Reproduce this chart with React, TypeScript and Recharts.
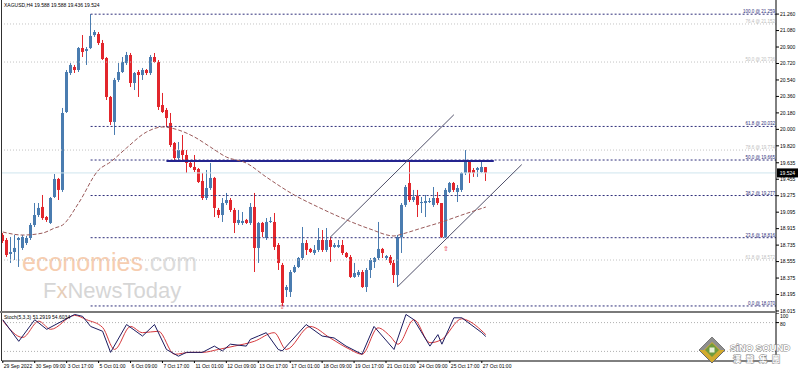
import React from 'react';
import { ComposedChart, Bar, Line, XAxis, YAxis, ReferenceLine, ReferenceDot } from 'recharts';

// ---------- data ----------
const opens = [
  18.846, 18.791, 18.638, 18.660, 18.791, 18.704, 18.758, 18.813, 18.955, 19.064,
  19.152, 19.042, 18.977, 19.261, 19.458, 19.338, 20.190, 20.616, 20.682, 20.649,
  20.889, 20.857, 20.889, 21.031, 21.042, 20.944, 20.780, 20.354, 20.081, 20.540,
  20.627, 20.725, 20.813, 20.507, 20.627, 20.594, 20.649, 20.616, 20.791, 20.736,
  20.266, 20.212, 20.070, 19.851, 19.687, 19.774, 19.720, 19.633, 19.589, 19.567,
  19.436, 19.250, 19.359, 19.469, 19.119, 19.064, 19.195, 19.228, 19.119, 18.977,
  18.977, 19.010, 18.977, 19.152, 18.704, 18.977, 18.813, 18.988, 18.988, 18.736,
  18.518, 18.244, 18.223, 18.441, 18.496, 18.594, 18.758, 18.693, 18.649, 18.682,
  18.791, 18.682, 18.791, 18.715, 18.715, 18.736, 18.649, 18.605, 18.387, 18.408,
  18.441, 18.277, 18.463, 18.551, 18.594, 18.693, 18.594, 18.605, 18.540, 18.408,
  18.824, 19.174, 19.414, 19.228, 19.272, 19.195, 19.195, 19.206, 19.174, 19.250,
  19.195, 18.824, 19.316, 19.414, 19.316, 19.338, 19.523, 19.644, 19.556, 19.556,
  19.534, 19.588,
];
const highs = [
  18.867, 18.813, 18.824, 18.846, 18.824, 18.846, 18.835, 18.977, 19.195, 19.195,
  19.283, 19.053, 19.261, 19.512, 19.469, 20.234, 20.649, 20.725, 20.704, 20.900,
  21.031, 20.900, 21.259, 21.086, 21.064, 20.977, 20.791, 20.365, 20.562, 20.725,
  20.791, 20.846, 20.835, 20.627, 20.649, 20.671, 20.660, 20.813, 20.835, 20.758,
  20.398, 20.234, 20.179, 19.862, 19.862, 19.939, 19.774, 19.644, 19.720, 19.578,
  19.523, 19.556, 19.633, 19.480, 19.141, 19.250, 19.305, 19.250, 19.141, 19.119,
  19.097, 19.021, 19.195, 19.305, 18.988, 18.988, 19.031, 19.042, 19.086, 18.758,
  18.540, 18.299, 18.463, 18.518, 18.605, 18.933, 18.791, 18.704, 18.736, 18.922,
  18.900, 18.922, 18.824, 18.758, 18.791, 18.791, 18.660, 18.627, 18.540, 18.463,
  18.463, 18.485, 18.594, 18.605, 18.988, 18.704, 18.627, 18.627, 18.572, 18.846,
  19.195, 19.392, 19.644, 19.338, 19.338, 19.261, 19.283, 19.250, 19.370, 19.316,
  19.195, 19.359, 19.425, 19.425, 19.392, 19.534, 19.774, 19.665, 19.578, 19.589,
  19.644, 19.588,
];
const lows = [
  18.758, 18.605, 18.540, 18.572, 18.496, 18.682, 18.736, 18.791, 18.933, 19.042,
  19.010, 18.988, 18.966, 19.250, 19.228, 19.316, 20.179, 20.594, 20.616, 20.627,
  20.791, 20.704, 20.878, 21.010, 20.922, 20.758, 20.321, 20.048, 19.939, 20.518,
  20.616, 20.704, 20.463, 20.430, 20.354, 20.540, 20.594, 20.594, 20.725, 20.212,
  20.179, 20.026, 19.807, 19.665, 19.665, 19.665, 19.523, 19.578, 19.534, 19.414,
  19.228, 19.228, 19.338, 19.042, 19.031, 18.988, 19.174, 19.097, 18.867, 18.955,
  18.955, 18.966, 18.955, 18.441, 18.540, 18.824, 18.791, 18.977, 18.682, 18.463,
  18.070, 18.168, 18.168, 18.430, 18.485, 18.572, 18.627, 18.649, 18.627, 18.660,
  18.660, 18.660, 18.551, 18.704, 18.704, 18.627, 18.594, 18.376, 18.376, 18.387,
  18.267, 18.223, 18.376, 18.485, 18.572, 18.594, 18.572, 18.518, 18.321, 18.277,
  18.649, 19.152, 19.206, 19.206, 19.042, 19.086, 19.042, 19.195, 19.152, 19.174,
  18.813, 18.813, 19.305, 19.316, 19.206, 19.316, 19.501, 19.414, 19.480, 19.480,
  19.523, 19.436,
];
const closes = [
  18.780, 18.627, 18.660, 18.704, 18.813, 18.824, 18.813, 18.955, 19.064, 19.141,
  19.031, 19.010, 19.250, 19.458, 19.338, 20.179, 20.627, 20.704, 20.649, 20.889,
  20.846, 20.878, 21.021, 21.064, 20.944, 20.769, 20.354, 20.081, 20.540, 20.627,
  20.736, 20.813, 20.507, 20.616, 20.594, 20.649, 20.616, 20.791, 20.736, 20.245,
  20.190, 20.124, 19.829, 19.687, 19.774, 19.720, 19.633, 19.589, 19.556, 19.425,
  19.250, 19.359, 19.469, 19.141, 19.064, 19.195, 19.228, 19.119, 18.977, 19.010,
  18.999, 18.977, 19.152, 18.704, 18.977, 18.878, 18.988, 18.999, 18.715, 18.540,
  18.103, 18.277, 18.441, 18.496, 18.594, 18.758, 18.682, 18.660, 18.682, 18.791,
  18.682, 18.791, 18.715, 18.736, 18.736, 18.649, 18.605, 18.387, 18.430, 18.441,
  18.277, 18.463, 18.572, 18.594, 18.693, 18.649, 18.616, 18.540, 18.408, 18.824,
  19.174, 19.370, 19.228, 19.261, 19.174, 19.206, 19.217, 19.217, 19.250, 19.195,
  18.824, 19.338, 19.414, 19.338, 19.359, 19.523, 19.644, 19.523, 19.523, 19.578,
  19.589, 19.524,
];

const maIdx = [0, 5, 10, 13, 15, 19, 24, 27, 31, 36, 40, 44, 48, 52, 56, 61, 66, 73, 79, 85, 92, 98, 100, 105, 110, 115, 121];
const maVal = [18.878, 18.845, 18.867, 18.922, 18.955, 19.195, 19.556, 19.644, 19.797, 19.971, 20.026, 19.993, 19.917, 19.807, 19.698, 19.632, 19.479, 19.283, 19.151, 19.031, 18.911, 18.835, 18.856, 18.922, 18.988, 19.064, 19.151];

const stochMainIdx = [0, 4, 8, 11, 18, 20, 22, 25, 27, 31, 35, 38, 41, 44, 46, 50, 53, 55, 57, 61, 62, 64, 66, 69, 70, 76, 80, 83, 86, 90, 93, 98, 101, 103, 107, 109, 110, 113, 115, 120, 121];
const stochMainVal = [86, 41, 86, 66, 97, 93, 72, 62, 18, 76, 52, 76, 24, 10, 18, 18, 31, 21, 35, 31, 45, 52, 59, 24, 21, 76, 52, 48, 31, 14, 72, 24, 97, 86, 31, 55, 35, 90, 90, 59, 51];
const stochSigIdx = [0, 5, 9, 12, 18, 21, 25, 28, 32, 35, 39, 43, 47, 50, 54, 58, 63, 68, 71, 77, 82, 87, 90, 94, 97, 99, 103, 107, 110, 115, 116, 121];
const stochSigVal = [84, 49, 83, 66, 95, 86, 70, 24, 72, 59, 62, 14, 18, 18, 24, 31, 41, 59, 24, 72, 48, 24, 14, 69, 52, 35, 86, 38, 45, 88, 86, 55];

const priceTicks = [21.26, 21.08, 20.9, 20.72, 20.54, 20.36, 20.18, 20.0, 19.82, 19.635, 19.455, 19.275, 19.095, 18.915, 18.735, 18.555, 18.375, 18.195, 18.015];

const fibNames = ['100.0', '61.8', '50.0', '38.2', '23.6', '0.0'];
const fibPrices = [21.259, 20.032, 19.665, 19.277, 18.816, 18.07];
const fibStartIdx = 22;
const lightFibNames = ['76.4', '50.0', '78.6', '61.8'];
const lightFibPrices = [21.152, 20.736, 19.774, 18.572];

const resistancePrice = 19.654;
const resistanceFrom = 41;
const resistanceTo = 123;
const channelUpper = [{ x: 82, y: 18.82 }, { x: 113, y: 20.16 }];
const channelLower = [{ x: 99, y: 18.285 }, { x: 130, y: 19.615 }];
const arrowIdx = [70, 111];
const arrowPrice = [18.06, 18.693];
const lastPrice = 19.524;

const dateTickIdx = [0, 8, 16, 24, 32, 40, 48, 56, 64, 72, 80, 88, 96, 104, 112, 120];
const dateLabels = ['29 Sep 2022', '30 Sep 09:00', '3 Oct 17:00', '5 Oct 01:00', '6 Oct 09:00', '7 Oct 17:00', '11 Oct 01:00', '12 Oct 09:00', '13 Oct 17:00', '17 Oct 01:00', '18 Oct 09:00', '19 Oct 17:00', '21 Oct 01:00', '24 Oct 09:00', '25 Oct 17:00', '27 Oct 01:00'];

const symbolTitle = 'XAGUSD,H4';
const stochTitle = 'Stoch(5,3,3) 51.2919 54.6034';

// ---------- derived tables ----------
const candles = opens.map((o, i) => ({ i, o, h: highs[i], l: lows[i], c: closes[i], range: [lows[i], highs[i]] }));
const maData = maIdx.map((i, k) => ({ i, v: maVal[k] }));
const stochMain = stochMainIdx.map((i, k) => ({ i, v: stochMainVal[k] }));
const stochSig = stochSigIdx.map((i, k) => ({ i, v: stochSigVal[k] }));

// ---------- style ----------
const FONT = '"Liberation Sans", Arial, sans-serif';
const BLUE = '#4a7cb0';
const RED = '#e2262c';
const NAVY = '#2f2f7a';
const XDOM: [number, number] = [-0.2, 193.7];

const Candle = (props: any) => {
  const { x, y, width, height, payload } = props;
  if (!payload || payload.o == null) return null;
  const { o, h, l, c } = payload;
  const top = Math.min(y, y + height);
  const hh = Math.abs(height);
  const span = h - l || 1e-9;
  const yO = top + ((h - o) / span) * hh;
  const yC = top + ((h - c) / span) * hh;
  const color = c >= o ? BLUE : RED;
  const cx = Math.round(x + width / 2);
  const bt = Math.min(yO, yC);
  const bb = Math.max(yO, yC);
  return (
    <g>
      <line x1={cx + 0.5} x2={cx + 0.5} y1={top} y2={top + hh} stroke={color} strokeWidth={1} />
      <rect x={cx - 1} y={bt} width={3} height={Math.max(bb - bt, 1)} fill={color} />
    </g>
  );
};

const PriceTag = (props: any) => {
  const vb = props.viewBox || {};
  const left = vb.x + vb.width + 1;
  return (
    <g>
      <rect x={left} y={vb.y - 4.5} width={21} height={9} fill="#000" />
      <text x={left + 10.5} y={vb.y + 1.8} fontSize={5} fill="#fff" textAnchor="middle" fontFamily={FONT}>
        {lastPrice.toFixed(3)}
      </text>
    </g>
  );
};

const DateTick = (props: any) => {
  const { x, y, payload } = props;
  const k = dateTickIdx.indexOf(payload.value);
  return (
    <text x={x + 1} y={y + 4.5} fontSize={5} fill="#000" textAnchor="start" fontFamily={FONT}>
      {k >= 0 ? dateLabels[k] : ''}
    </text>
  );
};

const StochTick = (props: any) => {
  const { x, y, payload } = props;
  return (
    <text x={x} y={payload.value === 100 ? y + 5 : y + 3} fontSize={5} fill="#000" textAnchor="start" fontFamily={FONT}>
      {payload.value}
    </text>
  );
};

const Arrow = (props: any) => (
  <text x={props.cx} y={props.cy + 2} fontSize={7} fill={RED} textAnchor="middle" fontFamily="DejaVu Sans">⇧</text>
);

export default function App() {
  const last = candles[candles.length - 1];
  return (
    <div style={{ position: 'absolute', left: 0, top: 0, width: 798, height: 372, background: '#fff', overflow: 'hidden' }}>
      {/* watermark behind chart */}
      <svg width={798} height={372} style={{ position: 'absolute', left: 0, top: 0 }}>
        <text x={22} y={271} fontSize={25} fontFamily={FONT} fill="#f6cdb0">
          economies<tspan fill="#dcdcdc">.com</tspan>
        </text>
        <text x={43} y={298} fontSize={22} fontFamily={FONT} fill="#d6d6d6">
          F<tspan fill="#e6cdb8">x</tspan>NewsToday
        </text>
      </svg>

      <div style={{ position: 'absolute', left: 0, top: 0 }}>
        <ComposedChart width={798} height={313} data={candles} margin={{ top: 0, right: 0, bottom: 0, left: 2 }}>
          <XAxis type="number" dataKey="i" domain={XDOM} allowDataOverflow hide />
          <YAxis
            orientation="right"
            domain={[17.993, 21.414]}
            allowDataOverflow
            ticks={priceTicks}
            interval={0}
            width={22}
            tickSize={3}
            tickMargin={1}
            tick={{ fontSize: 5, fill: '#000', fontFamily: FONT, textAnchor: 'start' }}
            tickFormatter={(v: number) => v.toFixed(3)}
            axisLine={{ stroke: '#000' }}
            tickLine={{ stroke: '#000' }}
          />
          <ReferenceLine y={lastPrice} stroke="#cfe6ee" strokeWidth={1} label={<PriceTag />} />
          {lightFibPrices.map((p, k) => (
            <ReferenceLine
              key={'lf' + k}
              y={p}
              stroke="#c4c4c4"
              strokeDasharray="1 2"
              label={{ value: `${lightFibNames[k]} @ ${p.toFixed(3)}`, position: 'insideBottomRight', offset: 1, fontSize: 4.5, fill: '#bdbdbd', fontFamily: FONT }}
            />
          ))}
          {fibPrices.map((p, k) => (
            <ReferenceLine
              key={'f' + k}
              segment={[{ x: fibStartIdx, y: p }, { x: XDOM[1], y: p }]}
              stroke={NAVY}
              strokeDasharray="2 2"
              label={{ value: `${fibNames[k]} @ ${p.toFixed(3)}`, position: 'insideBottomRight', offset: 1, fontSize: 4.5, fill: NAVY, fontFamily: FONT }}
            />
          ))}
          <ReferenceLine segment={[{ x: resistanceFrom, y: resistancePrice }, { x: resistanceTo, y: resistancePrice }]} stroke="#24248f" strokeWidth={2} />
          <ReferenceLine segment={channelUpper} stroke="#50506a" strokeWidth={1} ifOverflow="visible" />
          <ReferenceLine segment={channelLower} stroke="#50506a" strokeWidth={1} ifOverflow="visible" />
          <Line data={maData} dataKey="v" type="monotone" stroke="#9a5a5a" strokeWidth={1} strokeDasharray="4 2" dot={false} isAnimationActive={false} />
          <Bar dataKey="range" barSize={3} shape={<Candle />} isAnimationActive={false} />
          {arrowIdx.map((ix, k) => (
            <ReferenceDot key={'a' + k} x={ix} y={arrowPrice[k]} r={3} shape={<Arrow />} ifOverflow="visible" />
          ))}
        </ComposedChart>
      </div>

      <div style={{ position: 'absolute', left: 0, top: 313 }}>
        <ComposedChart width={798} height={59} margin={{ top: 0, right: 0, bottom: 0, left: 2 }}>
          <XAxis
            type="number"
            dataKey="i"
            domain={XDOM}
            allowDataOverflow
            ticks={dateTickIdx}
            interval={0}
            height={11}
            tickSize={2}
            tickMargin={0}
            tick={<DateTick />}
            axisLine={{ stroke: '#000' }}
            tickLine={{ stroke: '#000' }}
          />
          <YAxis
            orientation="right"
            domain={[0, 100]}
            ticks={[100, 80]}
            interval={0}
            width={22}
            tickSize={3}
            tickMargin={1}
            tick={<StochTick />}
            axisLine={{ stroke: '#000' }}
            tickLine={{ stroke: '#000' }}
          />
          <ReferenceLine y={80} stroke="#b0b0b0" strokeDasharray="1 2" />
          <ReferenceLine y={20} stroke="#b0b0b0" strokeDasharray="1 2" />
          <Line data={stochSig} dataKey="v" type="monotone" stroke="#d6393d" strokeWidth={1} dot={false} isAnimationActive={false} />
          <Line data={stochMain} dataKey="v" type="linear" stroke="#1c1c60" strokeWidth={1} dot={false} isAnimationActive={false} />
        </ComposedChart>
      </div>

      {/* frame, titles, logo */}
      <svg width={798} height={372} style={{ position: 'absolute', left: 0, top: 0, pointerEvents: 'none' }}>
        <line x1={1.5} x2={1.5} y1={0} y2={361} stroke="#303030" strokeWidth={1} />
        <line x1={0} x2={776} y1={312} y2={312} stroke="#7a7a7a" strokeWidth={2} />
        <text x={4} y={7} fontSize={5} fontFamily={FONT} fill="#000">
          {`${symbolTitle}  ${last.o.toFixed(3)} ${last.h.toFixed(3)} ${last.l.toFixed(3)} ${last.c.toFixed(3)}`}
        </text>
        <text x={4} y={318.5} fontSize={5} fontFamily={FONT} fill="#000">{stochTitle}</text>
        <g>
          <polygon points="712,337 725,350 712,363 699,350" fill="#d2aa2e" stroke="#6a6a6a" strokeWidth={1} />
          <polygon points="699,350 712,337 725,350 720,350 712,342 704,350" fill="#8f8f8f" />
          <polygon points="712,343 719,350 712,357 705,350" fill="#6f9a3c" />
          <rect x={709.5} y={347.5} width={5} height={5} fill="#e8f0d8" />
          <text x={730} y={350.5} fontSize={9.5} fontWeight="bold" fontFamily={FONT} fill="#ffffff" stroke="#8a8a8a" strokeWidth={1} paintOrder="stroke">SiNO SOUND</text>
          <text x={733} y={361.5} fontSize={8} fontWeight="bold" fontFamily='"Noto Sans CJK TC", sans-serif' fill="#ffffff" stroke="#8a8a8a" strokeWidth={1} paintOrder="stroke" letterSpacing={5}>漢聲集團</text>
        </g>
      </svg>
    </div>
  );
}
